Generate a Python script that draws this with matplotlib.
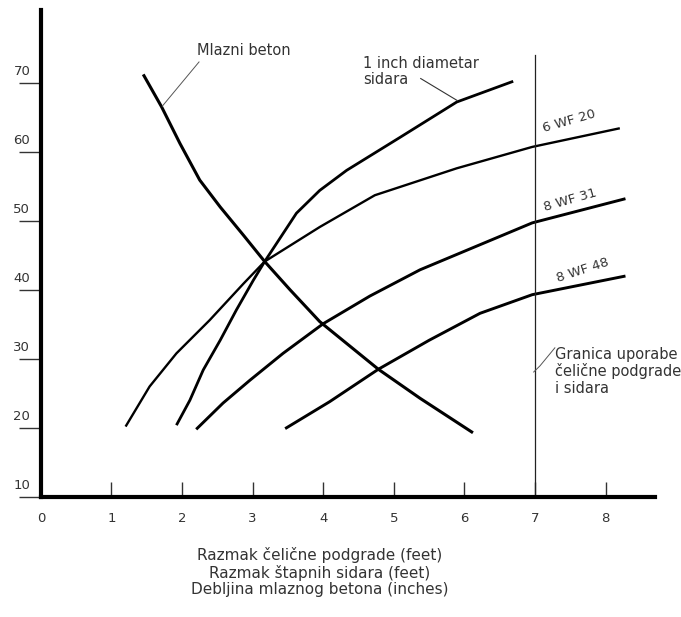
import matplotlib
matplotlib.use("Agg")
import matplotlib.pyplot as plt
from matplotlib import transforms

plt.rcParams["font.family"] = ["DejaVu Sans"]

# curves (x in feet / inches, y value)
mlazni_x = [1.45, 1.71, 1.97, 2.25, 2.54, 2.87, 3.17, 3.53, 3.95, 4.78, 5.37, 6.12]
mlazni_y = [71.2, 66.5, 61.2, 55.9, 52.0, 47.9, 44.1, 40.0, 35.4, 28.5, 24.3, 19.3]

sidra_x = [1.92, 2.11, 2.30, 2.54, 2.77, 3.01, 3.17, 3.62, 3.95, 4.33, 4.71, 5.09, 5.89, 6.69]
sidra_y = [20.4, 24.0, 28.4, 32.7, 37.1, 41.4, 44.1, 51.1, 54.4, 57.3, 59.7, 62.1, 67.2, 70.2]

wf20_x = [1.20, 1.54, 1.92, 2.39, 2.87, 3.17, 3.95, 4.73, 5.89, 6.96, 8.20]
wf20_y = [20.2, 26.0, 30.8, 35.6, 40.9, 44.1, 49.1, 53.7, 57.6, 60.7, 63.4]

wf31_x = [2.20, 2.58, 2.96, 3.43, 4.00, 4.66, 5.37, 6.96, 8.28]
wf31_y = [19.8, 23.6, 26.9, 30.8, 35.1, 39.1, 42.9, 49.7, 53.2]

wf48_x = [3.46, 4.09, 4.78, 5.5, 6.22, 6.96, 8.28]
wf48_y = [19.9, 23.8, 28.5, 32.7, 36.6, 39.3, 42.0]

granica_x = 7
granica_top = 74

x_ticks = [0, 1, 2, 3, 4, 5, 6, 7, 8]
y_ticks = [10, 20, 30, 40, 50, 60, 70]

xlabel_lines = [
    "Razmak čelične podgrade (feet)",
    "Razmak štapnih sidara (feet)",
    "Debljina mlaznog betona (inches)",
]

txt = "#333333"

fig = plt.figure(figsize=(6.81, 6.17), dpi=100)
ax = fig.add_axes([0.060, 0.1945, 0.902, 0.789])
ax.set_xlim(0, 8.7)
ax.set_ylim(10, 80.5)

ax.plot(mlazni_x, mlazni_y, color="black", lw=2.2, solid_capstyle="butt")
ax.plot(sidra_x, sidra_y, color="black", lw=2.0, solid_capstyle="butt")
ax.plot(wf20_x, wf20_y, color="black", lw=1.7, solid_capstyle="butt")
ax.plot(wf31_x, wf31_y, color="black", lw=2.1, solid_capstyle="butt")
ax.plot(wf48_x, wf48_y, color="black", lw=2.1, solid_capstyle="butt")
ax.plot([granica_x, granica_x], [10, granica_top], color="#222222", lw=0.9)

# leader lines
ax.plot([2.24, 1.72], [73.0, 66.6], color="#555555", lw=0.7)
ax.plot([5.38, 5.90], [70.6, 67.4], color="#333333", lw=0.8)
ax.plot([6.98, 7.07, 7.28], [28.1, 29.0, 31.6], color="#555555", lw=0.7)

# labels
ax.text(2.21, 74.7, "Mlazni beton", fontsize=10.5, color=txt, va="center", ha="left")
ax.text(4.56, 71.6, "1 inch diametar\nsidara", fontsize=10.5, color=txt,
        va="center", ha="left", linespacing=1.1)
ax.text(7.48, 64.4, "6 WF 20", fontsize=9.5, color=txt, rotation=16,
        ha="center", va="center")
ax.text(7.50, 53.0, "8 WF 31", fontsize=9.5, color=txt, rotation=16,
        ha="center", va="center")
ax.text(7.67, 42.9, "8 WF 48", fontsize=9.5, color=txt, rotation=18,
        ha="center", va="center")
ax.text(7.28, 28.2, "Granica uporabe\nčelične podgrade\ni sidara", fontsize=10.5,
        color=txt, ha="left", va="center", linespacing=1.12)

# axes styling
for side in ["top", "right"]:
    ax.spines[side].set_visible(False)
ax.spines["left"].set_linewidth(3)
ax.spines["bottom"].set_linewidth(3)

ax.set_xticks(x_ticks)
ax.set_xticklabels([str(v) for v in x_ticks])
ax.tick_params(axis="x", direction="in", length=11, width=1.0, pad=11,
               labelsize=9.5, labelcolor=txt, color="#333333")

ax.set_yticks(y_ticks)
ax.set_yticklabels([])
ax.tick_params(axis="y", direction="out", length=16, width=1.0, color="#333333")
trans = transforms.blended_transform_factory(ax.transAxes, ax.transData)
trans = transforms.offset_copy(trans, fig=fig, x=-19, y=5, units="dots")
for v in y_ticks:
    ax.text(0, v, str(v), transform=trans, fontsize=9.5, color=txt,
            ha="center", va="bottom")

fig.text(0.470, 0.073, "\n".join(xlabel_lines), fontsize=11, color=txt,
         ha="center", va="center", linespacing=1.1)

fig.savefig("out.png", dpi=100)
